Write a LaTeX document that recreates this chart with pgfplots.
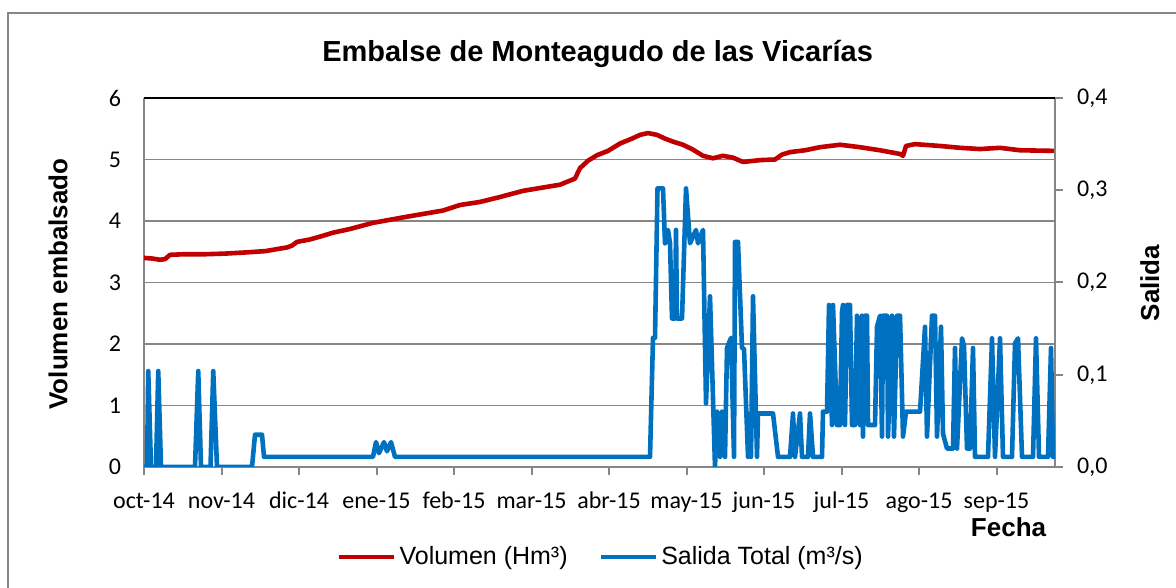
\documentclass[border=0pt]{standalone}
\usepackage{fontspec}
\setmainfont{Liberation Sans}
\newfontfamily\calibri{Carlito}
\usepackage{pgfplots}
\pgfplotsset{compat=1.18}
\definecolor{vred}{HTML}{C00000}
\definecolor{sblue}{HTML}{0070C0}
\definecolor{gridgray}{HTML}{868686}

\begin{document}
\begin{tikzpicture}
\useasboundingbox (-72pt,-60.5pt) rectangle (516pt,233.5pt);
\draw[gridgray, line width=0.6pt] (-68pt,-62pt) -- (-68pt,227pt) -- (518pt,227pt);
\begin{axis}[
  scale only axis, width=455.5pt, height=184.5pt,
  at={(0,0)}, anchor=south west,
  xmin=0, xmax=364.4, ymin=0, ymax=6,
  axis x line*=bottom, axis y line*=left,
  axis line style={gridgray, line width=1.1pt},
  xtick={0,31,62,93,124,155,186,217,248,279,310,341},
  xticklabels={oct-14,nov-14,dic-14,ene-15,feb-15,mar-15,abr-15,may-15,jun-15,jul-15,ago-15,sep-15},
  ytick={0,1,2,3,4,5,6},
  tick align=outside, major tick length=4pt,
  x tick style={gridgray, line width=1pt},
  y tick style={draw=none},
  ymajorgrids, grid style={gridgray, line width=0.9pt},
  /pgf/number format/assume math mode=true,
  tick label style={font=\calibri\fontsize{12}{14.4}\selectfont},
  yticklabel style={anchor=east, xshift=-4pt},
  xticklabel style={anchor=base, yshift=-16.5pt},
  xlabel={Fecha},
  xlabel style={at={(axis description cs:0.949,-0.187)}, anchor=base, font=\bfseries\fontsize{13}{15}\selectfont},
  ylabel={Volumen embalsado},
  ylabel style={at={(axis description cs:-0.0944,0.496)}, anchor=center, font=\bfseries\fontsize{13}{15}\selectfont},
]
\addplot[vred, line width=2.3pt, line join=round] coordinates {
(0,3.40) (3.2,3.39) (6.4,3.37) (8.4,3.38) (10.4,3.45) (16.4,3.46) (24.8,3.46) (32.4,3.47)
(41.2,3.49) (48.4,3.51) (57.2,3.57) (59.2,3.60) (61.2,3.66) (66.4,3.70) (71.6,3.76) (75.6,3.81)
(82.4,3.87) (91.6,3.97) (98.4,4.02) (105.2,4.07) (112.4,4.12) (119.6,4.17) (126.4,4.26) (134.4,4.31)
(142.4,4.39) (151.6,4.49) (160.4,4.55) (166.4,4.59) (172.4,4.69) (174.4,4.86) (177.6,4.98) (181.2,5.07)
(185.6,5.14) (190.4,5.26) (195.2,5.34) (198.4,5.40) (201.6,5.43) (205.2,5.40) (208.4,5.34) (211.6,5.29)
(215.6,5.24) (219.6,5.16) (223.6,5.06) (227.6,5.02) (231.6,5.06) (235.6,5.03) (239.6,4.96) (246.4,4.99)
(252.4,5.00) (255.2,5.08) (258.4,5.12) (264.4,5.15) (270.4,5.20) (278.4,5.24) (286.4,5.20) (294.4,5.15)
(302.4,5.09) (303.6,5.06) (304.8,5.22) (308.4,5.25) (318.4,5.22) (326.4,5.19) (334.4,5.17) (342.4,5.19)
(350.4,5.15) (364.4,5.14)
};
\end{axis}
\begin{axis}[
  scale only axis, width=455.5pt, height=184.5pt,
  at={(0,0)}, anchor=south west,
  xmin=0, xmax=364.4, ymin=0, ymax=0.4,
  axis x line=none, axis y line*=right,
  axis line style={gridgray, line width=1.1pt},
  ytick={0,0.1,0.2,0.3,0.4},
  tick align=outside, major tick length=4pt,
  y tick style={gridgray, line width=1pt},
  tick label style={font=\calibri\fontsize{12}{14.4}\selectfont},
  yticklabel style={/pgf/number format/.cd, fixed, fixed zerofill, precision=1, use comma, assume math mode=true, /tikz/.cd, anchor=west, xshift=3.5pt},
  ylabel={Salida},
  ylabel style={at={(axis description cs:1.104,0.4986)}, anchor=center, rotate=0, font=\bfseries\fontsize{13}{15}\selectfont},
  legend style={at={(0.502,-0.244)}, anchor=center, draw=none, fill=none, legend columns=2,
    nodes={inner xsep=1.5pt},
    font=\fontsize{12.5}{15}\selectfont, /tikz/every even column/.append style={column sep=14pt}},
  legend image code/.code={\draw[#1] (0pt,0pt) -- (27.5pt,0pt);},
]
\addlegendimage{vred, line width=2.3pt}
\addlegendentry{Volumen (Hm³)}
\addplot[sblue, line width=2.3pt, line join=round] coordinates {
(0,0) (1.2,0) (1.7,0.104) (2.8,0) (4.8,0) (5.7,0.104) (6.8,0) (20.4,0) (21.7,0.104) (22.8,0)
(26.6,0) (27.7,0.104) (29.2,0) (43.2,0) (44.4,0.035) (47.2,0.035) (48.0,0.011) (91.6,0.011)
(92.8,0.027) (94.0,0.015) (96.0,0.027) (97.2,0.017) (98.8,0.027) (100.4,0.011) (202.4,0.011)
(203.6,0.14) (204.4,0.14) (205.4,0.302) (207.6,0.302) (208.4,0.2425) (209.6,0.257) (210.4,0.2425)
(211.2,0.161) (212.4,0.161) (212.8,0.257) (213.2,0.161) (215.2,0.161) (216.8,0.302) (218.4,0.2425)
(220.8,0.257) (221.6,0.2425) (223.6,0.257) (224.8,0.069) (226.4,0.185) (228.4,0.0) (229.2,0.06)
(230.4,0.011) (231.2,0.06) (232.4,0.011) (233.2,0.129) (234.8,0.14) (236.0,0.011) (236.4,0.244)
(237.6,0.244) (239.2,0.129) (240.0,0.128) (241.6,0.011) (242.4,0.058) (242.8,0.011) (243.6,0.185)
(245.2,0.011) (245.6,0.058) (251.6,0.058) (253.6,0.011) (258.4,0.011) (259.6,0.058) (260.4,0.011)
(262.4,0.058) (263.2,0.011) (265.6,0.011) (266.4,0.058) (267.6,0.011) (271.2,0.011) (271.6,0.06)
(273.2,0.06) (274.0,0.1756) (275.2,0.0455) (275.6,0.1756) (277.2,0.0455) (278.4,0.0455) (279.2,0.168)
(279.6,0.1756) (280.4,0.0455) (281.2,0.1756) (282.4,0.1756) (283.2,0.0455) (284.4,0.0455) (285.2,0.164)
(286.4,0.0455) (287.2,0.164) (287.6,0.033) (288.4,0.164) (289.2,0.164) (289.6,0.0455) (292.4,0.0455)
(293.2,0.152) (294.4,0.164) (295.2,0.033) (295.6,0.164) (297.2,0.164) (297.6,0.033) (299.2,0.164)
(300.0,0.033) (301.2,0.164) (302.4,0.164) (303.6,0.033) (304.8,0.06) (310.4,0.06) (312.4,0.152)
(313.2,0.033) (315.2,0.164) (316.4,0.164) (317.2,0.033) (318.8,0.152) (319.6,0.036) (321.2,0.020)
(323.6,0.020) (324.4,0.129) (325.2,0.020) (327.2,0.1395) (328.0,0.131) (329.2,0.020) (330.4,0.020)
(331.6,0.129) (332.4,0.011) (337.6,0.011) (339.2,0.1395) (340.4,0.011) (342.4,0.1395) (343.6,0.011)
(347.2,0.011) (348.4,0.134) (349.6,0.1395) (351.2,0.011) (355.6,0.011) (356.8,0.1395) (358.0,0.011)
(361.6,0.011) (362.8,0.129) (363.6,0.011) (364.4,0.011)
};
\addlegendentry{Salida Total (m³/s)}
\draw[black, line width=1.3pt] (rel axis cs:0,1) -- (rel axis cs:1,1);
\end{axis}
\node[anchor=base, font=\bfseries\fontsize{14.5}{17}\selectfont] at (226.8pt,202.5pt) {Embalse de Monteagudo de las Vicarías};
\end{tikzpicture}
\end{document}
